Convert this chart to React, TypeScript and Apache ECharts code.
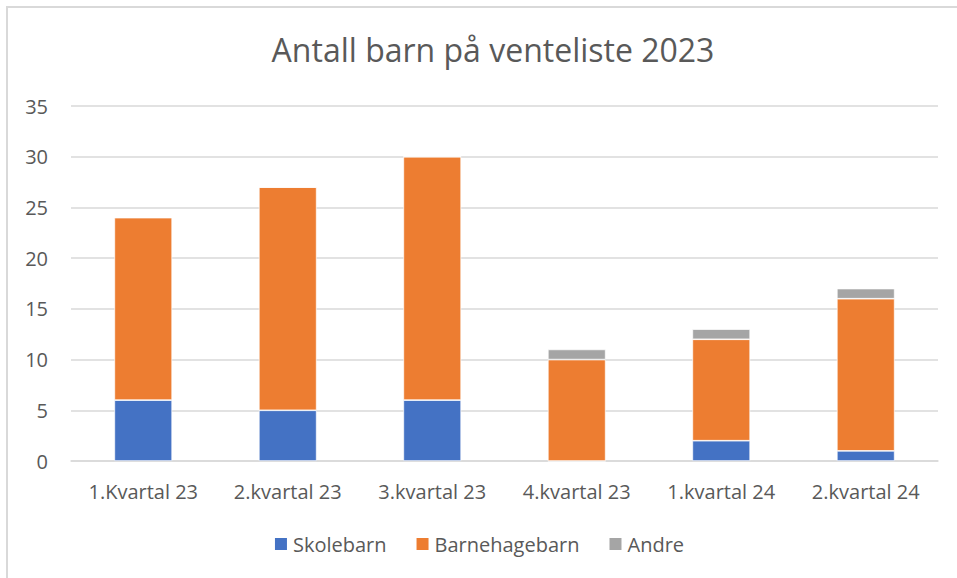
import React, { useEffect, useRef } from "react";
import * as echarts from "echarts";

const categories = ["1.Kvartal 23", "2.kvartal 23", "3.kvartal 23", "4.kvartal 23", "1.kvartal 24", "2.kvartal 24"];
const skolebarn = [6, 5, 6, 0, 2, 1];
const barnehagebarn = [18, 22, 24, 10, 10, 15];
const andre = [0, 0, 0, 1, 1, 1];

const FONT = "Open Sans";
const TEXT = "#595959";

export default function App() {
  const ref = useRef<HTMLDivElement>(null);
  useEffect(() => {
    if (!ref.current) return;
    const chart = echarts.init(ref.current, null, { renderer: "svg" });
    const mk = (name: string, data: number[], color: string) => ({
      name,
      type: "bar",
      stack: "total",
      data,
      barWidth: "40%",
      itemStyle: { color, borderColor: "#ffffff", borderWidth: 0.7 },
      emphasis: { disabled: true },
    });
    chart.setOption({
      animation: false,
      textStyle: { fontFamily: FONT },
      title: {
        text: "Antall barn på venteliste 2023",
        left: 488,
        textAlign: "center",
        top: 28,
        textStyle: { fontFamily: FONT, fontSize: 32, fontWeight: "normal", color: TEXT },
      },
      graphic: [
        {
          type: "polyline",
          shape: { points: [[7, 578], [7, 7], [957, 7]] },
          style: { stroke: "#d9d9d9", lineWidth: 2, fill: null },
          silent: true,
        },
      ],
      legend: {
        bottom: 19,
        left: "center",
        itemWidth: 14,
        itemHeight: 14,
        itemGap: 28,
        icon: "rect",
        textStyle: { fontFamily: FONT, fontSize: 20, color: TEXT, padding: [0, 0, 0, 0] },
        data: ["Skolebarn", "Barnehagebarn", "Andre"],
      },
      grid: { left: 71, right: 19, top: 106, bottom: 117, containLabel: false },
      xAxis: {
        type: "category",
        data: categories,
        axisLine: { show: true, lineStyle: { color: "#d9d9d9", width: 1.5 } },
        axisTick: { show: false },
        axisLabel: { fontFamily: FONT, fontSize: 20, color: TEXT, margin: 20, interval: 0 },
      },
      yAxis: {
        type: "value",
        min: 0,
        max: 35,
        interval: 5,
        axisLine: { show: false },
        axisTick: { show: false },
        splitLine: { lineStyle: { color: "#d9d9d9", width: 1.5 } },
        axisLabel: { fontFamily: FONT, fontSize: 20, color: TEXT, margin: 23 },
      },
      series: [
        mk("Skolebarn", skolebarn, "#4472C4"),
        mk("Barnehagebarn", barnehagebarn, "#ED7D31"),
        mk("Andre", andre, "#A5A5A5"),
      ],
    });
    return () => chart.dispose();
  }, []);
  return (
    <div
      ref={ref}
      style={{ position: "absolute", left: 0, top: 0, width: 957, height: 578, background: "#fff" }}
    />
  );
}
